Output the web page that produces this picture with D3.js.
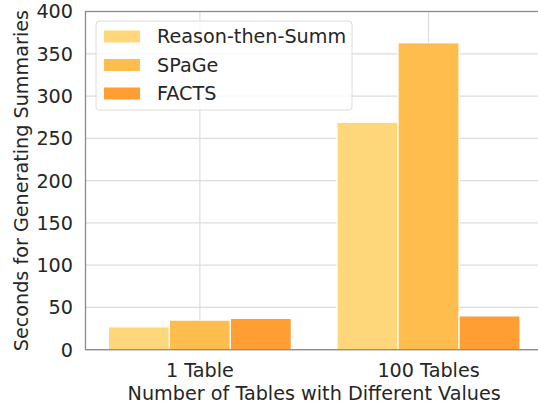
<!DOCTYPE html>
<html><head><meta charset="utf-8">
<script src="https://cdn.jsdelivr.net/npm/d3@7"></script>
<style>body{margin:0;background:#fff;} text{font-family:"DejaVu Sans";fill:#262626;}</style>
</head><body><svg id="c" width="538" height="408"></svg>
<script>
const categories = ["1 Table", "100 Tables"];
const seriesNames = ["Reason-then-Summ", "SPaGe", "FACTS"];
const reasonVals = [27, 269];
const spageVals = [35, 363];
const factsVals = [37, 40];
const colors = ["#FDD77A", "#FEBD4D", "#FE9E33"];
const yTicks = [0, 50, 100, 150, 200, 250, 300, 350, 400];
const series = [reasonVals, spageVals, factsVals];

const svg = d3.select("#c");
const L = 85.5, T = 11.5, B = 349.7;
const unit = 228.7;
const R = L + 2 * unit;
const x = d3.scaleLinear().domain([-0.5, 1.5]).range([L, R]);
const y = d3.scaleLinear().domain([0, 400]).range([B, T]);
const FS = 19.2;

const g = svg.append("g");
g.selectAll(".hg").data(yTicks).enter().append("line")
  .attr("x1", L).attr("x2", R).attr("y1", d => y(d)).attr("y2", d => y(d))
  .attr("stroke", "#dcdcdc").attr("stroke-width", 1.2);
g.selectAll(".vg").data(categories).enter().append("line")
  .attr("x1", (d, i) => x(i)).attr("x2", (d, i) => x(i)).attr("y1", T).attr("y2", B)
  .attr("stroke", "#dcdcdc").attr("stroke-width", 1.2);

const bw = 0.8 / 3;
series.forEach((vals, s) => {
  g.selectAll(".b" + s).data(vals).enter().append("rect")
    .attr("x", (d, i) => x(i - 0.4 + s * bw))
    .attr("width", x(bw) - x(0))
    .attr("y", d => y(d))
    .attr("height", d => B - y(d))
    .attr("fill", colors[s])
    .attr("stroke", "#fff").attr("stroke-width", 1.2);
});

g.append("rect").attr("x", L).attr("y", T).attr("width", R - L).attr("height", B - T)
  .attr("fill", "none").attr("stroke", "#8a8a8a").attr("stroke-width", 1.3);

svg.selectAll(".yt").data(yTicks).enter().append("text")
  .attr("x", 73).attr("y", d => y(d)).attr("dy", "0.36em")
  .attr("text-anchor", "end").attr("font-size", FS).text(d => d);
svg.selectAll(".xt").data(categories).enter().append("text")
  .attr("x", (d, i) => x(i)).attr("y", 377)
  .attr("text-anchor", "middle").attr("font-size", FS).text(d => d);

svg.append("text").attr("x", (L + R) / 2).attr("y", 400)
  .attr("text-anchor", "middle").attr("font-size", FS)
  .text("Number of Tables with Different Values");
svg.append("text").attr("transform", `translate(28,${(T + B) / 2}) rotate(-90)`)
  .attr("text-anchor", "middle").attr("font-size", FS)
  .text("Seconds for Generating Summaries");

const lg = svg.append("g");
lg.append("rect").attr("x", 96).attr("y", 21).attr("width", 256).attr("height", 89)
  .attr("rx", 3).attr("fill", "rgba(255,255,255,0.8)").attr("stroke", "#dcdcdc").attr("stroke-width", 1);
seriesNames.forEach((n, i) => {
  lg.append("rect").attr("x", 104).attr("y", 30.5 + i * 28.5).attr("width", 36).attr("height", 12)
    .attr("fill", colors[i]);
  lg.append("text").attr("x", 157).attr("y", 36.5 + i * 28.5).attr("dy", "0.36em")
    .attr("font-size", FS).text(n);
});
</script></body></html>
